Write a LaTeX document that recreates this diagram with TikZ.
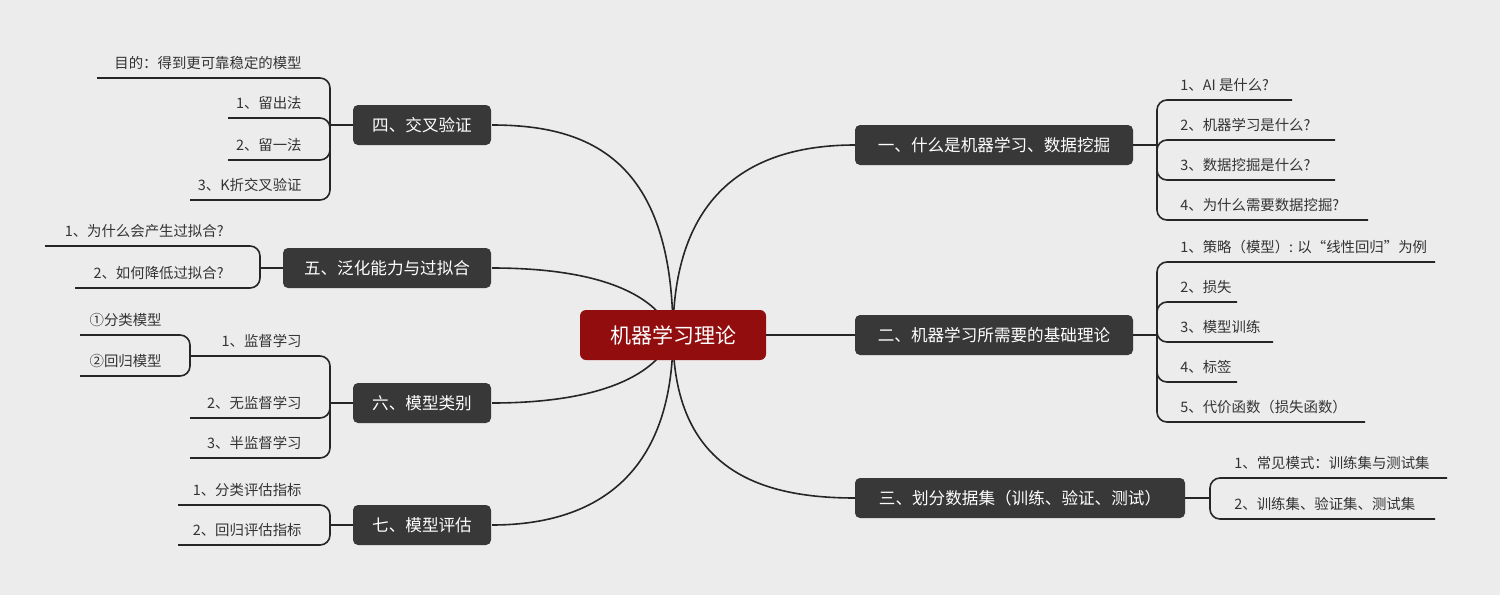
\documentclass[tikz,border=0pt]{standalone}
\usepackage{fontspec}
\setmainfont{Noto Sans CJK SC}
\begin{document}
\begin{tikzpicture}[x=0.5pt,y=-0.5pt,
  ln/.style={draw=black!70!gray,line width=0.8pt},
  br/.style={fill=black!78,text=white,rounded corners=2.5pt,minimum height=20pt,inner xsep=8pt,font=\fontsize{8.3}{10}\selectfont},
  lf/.style={text=black!80,font=\fontsize{7.2}{9}\selectfont,inner sep=1pt},
  lfl/.style={lf,anchor=east},
  lfr/.style={lf,anchor=west},
  ul/.style={ln,rounded corners=5pt}]
\fill[gray!15] (0,0) rectangle (1500,595);
\useasboundingbox (0,0) rectangle (1500,595);
\coordinate (c) at (673,335);
% main connectors
\draw[ln] (c) .. controls (673,185) and (760,145) .. (855,145);
\draw[ln] (c) -- (855,335);
\draw[ln] (c) .. controls (673,470) and (760,498) .. (855,498);
\draw[ln] (c) .. controls (673,160) and (590,125) .. (492,125);
\draw[ln] (c) .. controls (655,290) and (590,268) .. (492,268);
\draw[ln] (c) .. controls (655,380) and (590,403) .. (492,403);
\draw[ln] (c) .. controls (673,480) and (590,525) .. (492,525);
\node[fill=red!55!black!95,text=white,rounded corners=3pt,minimum width=93pt,minimum height=25pt,font=\fontsize{10.5}{12}\selectfont] (ctr) at (c) {机器学习理论};
% branches
\node[br,minimum width=139pt] (b1) at (994,145) {一、什么是机器学习、数据挖掘};
\node[br,minimum width=139pt] (b2) at (994,335) {二、机器学习所需要的基础理论};
\node[br,minimum width=165pt] (b3) at (1020,498) {三、划分数据集（训练、验证、测试）};
\node[br,minimum width=69pt] (b4) at (422,125) {四、交叉验证};
\node[br,minimum width=104pt] (b5) at (387,268) {五、泛化能力与过拟合};
\node[br,minimum width=69pt] (b6) at (422,403) {六、模型类别};
\node[br,minimum width=69pt] (b7) at (422,525) {七、模型评估};
% branch 1 leaves
\draw[ln] (b1.east) -- (1157,145);
\foreach \t/\y/\e [count=\i] in {{1、AI 是什么?}/100/1292,{2、机器学习是什么?}/140/1335,{3、数据挖掘是什么?}/180/1335,{4、为什么需要数据挖掘?}/220/1368}{
  \node[lfr] (a\i) at (1178,\y-15) {\t};
  \draw[ul] (1157,145) |- (\e,\y);}
% branch 2 leaves
\draw[ln] (b2.east) -- (1157,335);
\foreach \t/\y/\e [count=\i] in {{1、策略（模型）: 以“线性回归”为例}/262/1435,{2、损失}/302/1237,{3、模型训练}/342/1273,{4、标签}/382/1237,{5、代价函数（损失函数）}/422/1365}{
  \node[lfr] (d\i) at (1178,\y-15) {\t};
  \draw[ul] (1157,335) |- (\e,\y);}
% branch 3 leaves
\draw[ln] (b3.east) -- (1210,498);
\foreach \t/\y/\e [count=\i] in {{1、常见模式：训练集与测试集}/478/1447,{2、训练集、验证集、测试集}/519/1435}{
  \node[lfr] (e\i) at (1232,\y-15) {\t};
  \draw[ul] (1210,498) |- (\e,\y);}
% branch 4 leaves
\draw[ln] (b4.west) -- (330,125);
\foreach \t/\y/\e [count=\i] in {{目的：得到更可靠稳定的模型}/78/97,{1、留出法}/118/228,{2、留一法}/160/228,{3、K折交叉验证}/200/190}{
  \node[lfl] (f\i) at (304,\y-15) {\t};
  \draw[ul] (330,125) |- (\e,\y);}
% branch 5 leaves
\draw[ln] (b5.west) -- (260,268);
\foreach \t/\y/\e [count=\i] in {{1、为什么会产生过拟合?}/246/45,{2、如何降低过拟合?}/288/75}{
  \node[lfl] (g\i) at (226,\y-15) {\t};
  \draw[ul] (260,268) |- (\e,\y);}
% branch 6 leaves
\draw[ln] (b6.west) -- (330,403);
\foreach \t/\y/\e [count=\i] in {{1、监督学习}/356/190,{2、无监督学习}/418/190,{3、半监督学习}/458/190}{
  \node[lfl] (h\i) at (304,\y-15) {\t};
  \draw[ul] (330,403) |- (\e,\y);}
\foreach \t/\y/\e [count=\i] in {{①分类模型}/335/80,{②回归模型}/376/80}{
  \node[lfl] (k\i) at (164,\y-15) {\t};
  \draw[ul] (190,356) |- (\e,\y);}
% branch 7 leaves
\draw[ln] (b7.west) -- (330,525);
\foreach \t/\y/\e [count=\i] in {{1、分类评估指标}/505/178,{2、回归评估指标}/545/178}{
  \node[lfl] (m\i) at (304,\y-15) {\t};
  \draw[ul] (330,525) |- (\e,\y);}
\end{tikzpicture}
\end{document}
